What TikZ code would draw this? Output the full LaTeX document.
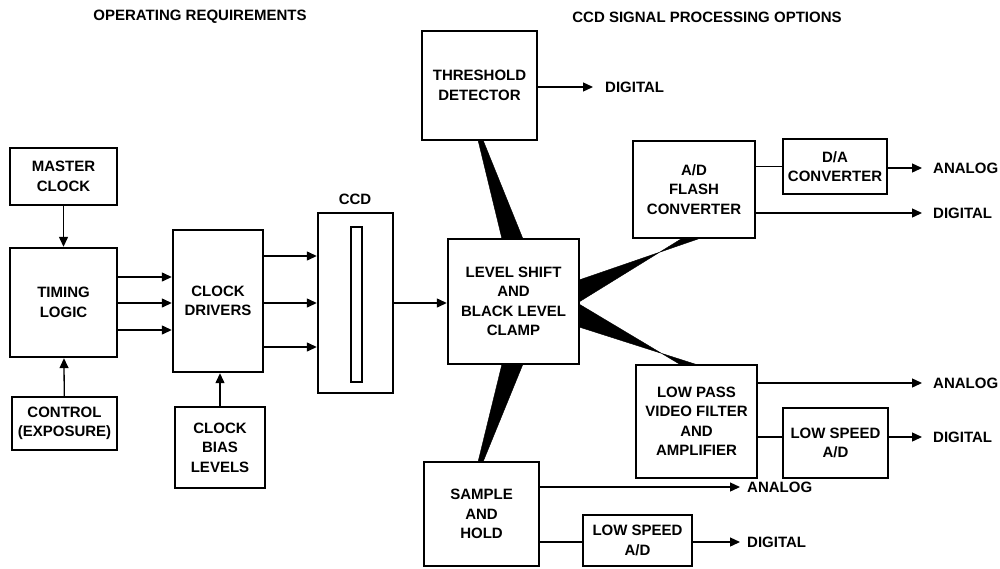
\documentclass[tikz,border=0pt]{standalone}
\usepackage{fontspec}
\setmainfont{Liberation Sans}
\usetikzlibrary{arrows.meta}
\begin{document}
\begin{tikzpicture}[x=1pt,y=-1pt,
  txt/.style={font=\fontsize{15}{19.5}\selectfont\bfseries, align=center, inner sep=0pt},
  blk/.style={txt, draw, line width=2.4pt, rectangle},
  arr/.style={line width=1.3pt, -{Triangle[length=10pt,width=9pt]}},
  link/.style={line width=1.3pt},
  wedge/.style={fill=black, draw=black, line width=0.4pt, line join=miter}]
\useasboundingbox (0,0) rectangle (1000,568);

% headings
\node[txt] (h1) at (200,17) {OPERATING REQUIREMENTS};
\node[txt] (h2) at (707,17) {CCD SIGNAL PROCESSING OPTIONS};

% operating requirements
\node[blk, minimum width=107pt, minimum height=57pt] (master) at (63.5,176.5) {MASTER\\CLOCK};
\node[blk, minimum width=107pt, minimum height=109pt] (timing) at (63.5,302.5) {TIMING\\LOGIC};
\node[blk, minimum width=105pt, minimum height=53pt] (control) at (64.5,423.5) {CONTROL\\(EXPOSURE)};
\node[blk, minimum width=90pt, minimum height=142pt] (drivers) at (218,301) {CLOCK\\DRIVERS};
\node[blk, minimum width=90pt, minimum height=81pt] (bias) at (220,447.5) {CLOCK\\BIAS\\LEVELS};

% CCD package with its sensor strip
\node[blk, minimum width=75pt, minimum height=180pt] (ccd) at (355.5,303) {};
\node[draw, line width=1.2pt, minimum width=11pt, minimum height=155pt, inner sep=0pt] (strip) at (356.5,304.5) {};
\node[txt] (ccdlbl) at (355,199) {CCD};

% signal processing
\node[blk, minimum width=131pt, minimum height=125pt] (level) at (513.5,301.5) {LEVEL SHIFT\\AND\\BLACK LEVEL\\CLAMP};
\node[blk, minimum width=115pt, minimum height=109pt] (thresh) at (479.5,85.5) {THRESHOLD\\DETECTOR};
\node[blk, minimum width=122pt, minimum height=97pt] (ad) at (694,189.5) {A/D\\FLASH\\CONVERTER};
\node[blk, minimum width=104pt, minimum height=55pt] (da) at (835,166.5) {D/A\\CONVERTER};
\node[blk, minimum width=121pt, minimum height=113pt] (lowpass) at (696.5,421.5) {LOW PASS\\VIDEO FILTER\\AND\\AMPLIFIER};
\node[blk, minimum width=105pt, minimum height=70pt] (lsa) at (835.5,443) {LOW SPEED\\A/D};
\node[blk, minimum width=115pt, minimum height=104pt] (sample) at (481.5,514) {SAMPLE\\AND\\HOLD};
\node[blk, minimum width=109pt, minimum height=51pt] (lsb) at (637.5,540.5) {LOW SPEED\\A/D};

% output labels
\node[txt, anchor=west] (o1) at (605,87) {DIGITAL};
\node[txt, anchor=west] (o2) at (933,168) {ANALOG};
\node[txt, anchor=west] (o3) at (933,213) {DIGITAL};
\node[txt, anchor=west] (o4) at (933,383) {ANALOG};
\node[txt, anchor=west] (o5) at (933,437) {DIGITAL};
\node[txt, anchor=west] (o6) at (747,487) {ANALOG};
\node[txt, anchor=west] (o7) at (747,542) {DIGITAL};

% clock path
\draw[arr] (master) -- (timing);
\draw[arr] (control) -- (timing);
\foreach \yy in {277,303,330}
  \draw[arr] (timing.east |- 0,\yy) -- (drivers.west |- 0,\yy);
\foreach \yy in {256,303,347}
  \draw[arr] (drivers.east |- 0,\yy) -- (ccd.west |- 0,\yy);
\draw[arr] (bias.north -| 220,0) -- (drivers.south -| 220,0);
\draw[arr] (ccd.east |- 0,303) -- (level.west |- 0,303);

% outputs
\draw[arr] (thresh.east |- o1.west) -- ([xshift=-12pt]o1.west);
\draw[link] (ad.east |- da.west) -- (da.west);
\draw[arr] (da.east |- o2.west) -- ([xshift=-11pt]o2.west);
\draw[arr] (ad.east |- o3.west) -- ([xshift=-11pt]o3.west);
\draw[arr] (lowpass.east |- o4.west) -- ([xshift=-11pt]o4.west);
\draw[link] (lowpass.east |- 0,437) -- (lsa.west |- 0,437);
\draw[arr] (lsa.east |- o5.west) -- ([xshift=-11pt]o5.west);
\draw[arr] (sample.east |- o6.west) -- ([xshift=-7pt]o6.west);
\draw[link] (sample.east |- 0,542) -- (lsb.west |- 0,542);
\draw[arr] (lsb.east |- o7.west) -- ([xshift=-7pt]o7.west);

% tapered links from the clamp stage to each option
\fill[wedge] (478,140) -- (483,140) -- (523,239) -- (502,239) -- cycle;
\fill[wedge] (502,364) -- (523,364) -- (483,462) -- (478,462) -- cycle;
\fill[wedge] (579,280) -- (698,239) -- (681,239) -- (579,302) -- cycle;
\fill[wedge] (579,304) -- (681,365) -- (698,365) -- (579,327) -- cycle;
\end{tikzpicture}
\end{document}
